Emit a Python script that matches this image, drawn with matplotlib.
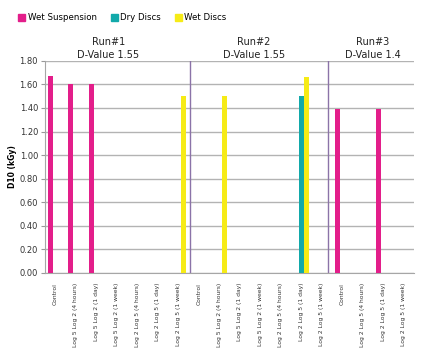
""" D10 values per treatment across three runs """

import numpy as np
from matplotlib import pyplot as plt
from matplotlib.patches import Patch

categories = [
	"Control", "Log 5 Log 2 (4 hours)", "Log 5 Log 2 (1 day)", "Log 5 Log 2 (1 week)",
	"Log 2 Log 5 (4 hours)", "Log 2 Log 5 (1 day)", "Log 2 Log 5 (1 week)",
	"Control", "Log 5 Log 2 (4 hours)", "Log 5 Log 2 (1 day)", "Log 5 Log 2 (1 week)",
	"Log 2 Log 5 (4 hours)", "Log 2 Log 5 (1 day)", "Log 2 Log 5 (1 week)",
	"Control", "Log 2 Log 5 (4 hours)", "Log 2 Log 5 (1 day)", "Log 2 Log 5 (1 week)",
]
wet_suspension = [1.67, 1.60, 1.60, 0, 0, 0, 0,
	0, 0, 0, 0, 0, 0, 0,
	1.39, 0, 1.39, 0]
dry_discs = [0, 0, 0, 0, 0, 0, 0,
	0, 0, 0, 0, 0, 1.50, 0,
	0, 0, 0, 0]
wet_discs = [0, 0, 0, 0, 0, 0, 1.50,
	0, 1.50, 0, 0, 0, 1.66, 0,
	0, 0, 0, 0]
run_labels = ["Run#1\nD-Value 1.55", "Run#2\nD-Value 1.55", "Run#3\nD-Value 1.4"]
run_centers = [2.6, 9.7, 15.5]
separators = [6.57, 13.3]

colors = ["#E31E8A", "#12A9AA", "#F6EB16"]
names = ["Wet Suspension", "Dry Discs", "Wet Discs"]

fig = plt.figure(figsize=(4.28, 3.64), dpi=100)
ax = fig.add_axes([0.105, 0.250, 0.862, 0.583])

x = np.arange(len(categories))
w = 0.24
for offset, values, color in zip([-w, 0, w], [wet_suspension, dry_discs, wet_discs], colors):
	ax.bar(x + offset, values, width=w, color=color, zorder=3)

ax.set_xlim(-0.5, len(categories) - 0.5)
ax.set_ylim(0, 1.8)
ax.set_yticks(np.arange(0, 1.81, 0.2))
ax.set_yticklabels([f"{v:.2f}" for v in np.arange(0, 1.81, 0.2)], fontsize=6, color="#333333")
ax.set_xticks(x)
ax.set_xticklabels(categories, rotation=90, fontsize=4.3, color="#333333")
ax.tick_params(axis="x", length=0, pad=7)
ax.tick_params(axis="y", length=3, color="#999999", pad=2)
ax.grid(axis="y", color="#b3b3b3", linewidth=1, zorder=0)
for side in ["top", "right"]:
	ax.spines[side].set_visible(False)
for side in ["left", "bottom"]:
	ax.spines[side].set_color("#a6a6a6")
ax.set_ylabel("D10 (kGy)", fontsize=5.5, fontweight="bold", labelpad=2)

for s in separators:
	ax.axvline(s, color="#8b73a8", linewidth=1, zorder=2)
for c, label in zip(run_centers, run_labels):
	ax.text(c, 1.81, label, ha="center", va="bottom", fontsize=7, color="#222222", linespacing=1.3)

handles = [Patch(color=c) for c in colors]
fig.legend(handles, names, loc="upper left", bbox_to_anchor=(0.025, 0.985), ncol=3,
	fontsize=6.2, frameon=False, handlelength=0.8, handleheight=0.8, handletextpad=0.3,
	columnspacing=1.6)

fig.savefig("out.png", dpi=100)
